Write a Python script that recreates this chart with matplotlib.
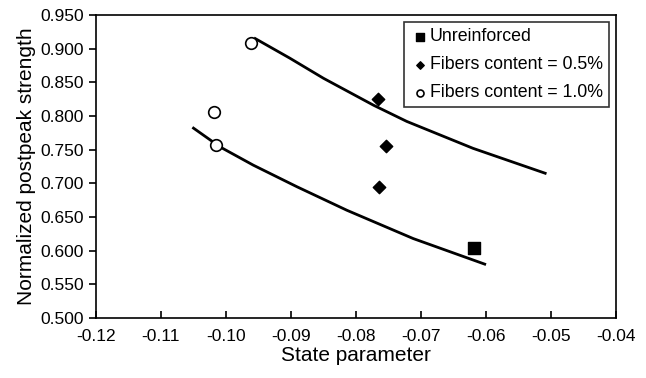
import numpy as np
import matplotlib.pyplot as plt

plt.rcParams['font.family'] = ['Liberation Sans', 'DejaVu Sans']

# data
unreinf_x = [-0.0618]
unreinf_y = [0.604]
f05_x = [-0.0766, -0.0754, -0.0765]
f05_y = [0.825, 0.755, 0.695]
f10_x = [-0.0962, -0.1018, -0.1015]
f10_y = [0.908, 0.806, 0.757]

upper_x = [-0.0955, -0.0902, -0.0850, -0.0773, -0.0722, -0.0620, -0.0509]
upper_y = [0.915, 0.886, 0.856, 0.816, 0.792, 0.752, 0.715]
lower_x = [-0.1050, -0.1009, -0.0958, -0.0891, -0.0814, -0.0712, -0.0602]
lower_y = [0.782, 0.754, 0.727, 0.695, 0.660, 0.618, 0.580]

xticks = [-0.12, -0.11, -0.10, -0.09, -0.08, -0.07, -0.06, -0.05, -0.04]
yticks = [0.50, 0.55, 0.60, 0.65, 0.70, 0.75, 0.80, 0.85, 0.90, 0.95]

fig = plt.figure(figsize=(6.46, 3.78), dpi=100)
ax = fig.add_axes([0.1486, 0.1587, 0.805, 0.8016])

ax.plot(upper_x, upper_y, color='black', lw=2, zorder=2, solid_joinstyle='round')
ax.plot(lower_x, lower_y, color='black', lw=2, zorder=2, solid_joinstyle='round')

ax.scatter(unreinf_x, unreinf_y, marker='s', s=85, color='black', label='Unreinforced', zorder=3)
ax.scatter(f05_x, f05_y, marker='D', s=40, color='black', label='Fibers content = 0.5%', zorder=3)
ax.scatter(f10_x, f10_y, marker='o', s=70, facecolor='white', edgecolor='black', lw=1.2,
           label='Fibers content = 1.0%', zorder=3)

ax.set_xlim(-0.12, -0.04)
ax.set_ylim(0.5, 0.95)
ax.set_xticks(xticks)
ax.set_xticklabels(['%.2f' % v for v in xticks])
ax.set_yticks(yticks)
ax.set_yticklabels(['%.3f' % v for v in yticks])
ax.tick_params(axis='x', direction='in', length=5, width=1.2, labelsize=12.5, pad=8)
ax.tick_params(axis='y', direction='out', length=5, width=1.2, labelsize=12.5)
for s in ax.spines.values():
    s.set_linewidth(1.2)

ax.set_xlabel('State parameter', fontsize=15, labelpad=1)
ax.set_ylabel('Normalized postpeak strength', fontsize=15, labelpad=3)

leg = ax.legend(loc='upper right', fontsize=12.8, frameon=True, fancybox=False,
                edgecolor='black', handletextpad=0.0, handlelength=1.1,
                markerscale=0.6, borderpad=0.35, labelspacing=0.62,
                bbox_to_anchor=(0.9865, 0.977), borderaxespad=0)
leg.get_frame().set_linewidth(1.2)

fig.savefig('out.png', dpi=100)
